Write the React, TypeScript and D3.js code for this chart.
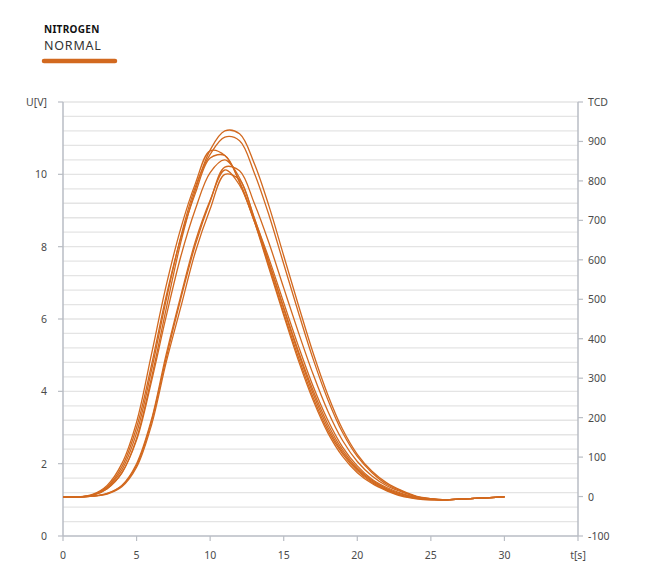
import { useMemo } from 'react';
import * as d3 from 'd3';

const WIDTH = 656;
const HEIGHT = 582;
const MARGIN = { top: 102, right: 78, bottom: 46, left: 63 };
const ORANGE = '#d2691f';
const AXIS_GREY = '#b9bdc4';
const GRID_GREY = '#e4e4e4';
const TEXT = '#4a4a4a';
const FONT = '"Noto Sans", sans-serif';

// time axis (s), one sample per second
const TIME = [0, 1, 2, 3, 4, 5, 6, 7, 8, 9, 10, 11, 12, 13, 14, 15, 16, 17, 18, 19, 20, 21, 22, 23, 24, 25, 26, 27, 28, 29, 30];

// measured voltage of each run (V)
const RUN_1 = [1.08, 1.08, 1.12, 1.31, 1.74, 2.7, 4.35, 6.26, 8.11, 9.58, 10.67, 11.2, 11.12, 10.3, 9.12, 7.75, 6.38, 5.06, 3.9, 2.95, 2.26, 1.79, 1.47, 1.26, 1.1, 1.03, 1.0, 1.02, 1.04, 1.06, 1.08];
const RUN_2 = [1.08, 1.08, 1.13, 1.35, 1.83, 2.85, 4.55, 6.5, 8.27, 9.66, 10.55, 11.03, 10.93, 10.04, 8.87, 7.52, 6.18, 4.89, 3.77, 2.86, 2.2, 1.75, 1.43, 1.24, 1.09, 1.03, 1.0, 1.02, 1.04, 1.06, 1.08];
const RUN_3 = [1.08, 1.08, 1.15, 1.4, 2.0, 3.15, 5.0, 6.9, 8.5, 9.75, 10.65, 10.52, 9.8, 8.7, 7.4, 6.1, 4.85, 3.75, 2.85, 2.2, 1.75, 1.45, 1.25, 1.1, 1.03, 1.0, 1.0, 1.02, 1.04, 1.06, 1.08];
const RUN_4 = [1.08, 1.08, 1.13, 1.36, 1.91, 3.0, 4.7, 6.61, 8.23, 9.48, 10.45, 10.52, 9.77, 8.72, 7.46, 6.17, 4.94, 3.83, 2.92, 2.27, 1.8, 1.48, 1.27, 1.12, 1.04, 1.0, 1.0, 1.02, 1.04, 1.06, 1.08];
const RUN_5 = [1.08, 1.08, 1.12, 1.31, 1.75, 2.65, 4.25, 6.05, 7.72, 9.04, 10.05, 10.4, 9.9, 8.8, 7.57, 6.28, 5.05, 3.93, 3.0, 2.32, 1.84, 1.51, 1.29, 1.13, 1.05, 1.01, 1.0, 1.02, 1.04, 1.06, 1.08];
const RUN_6 = [1.08, 1.08, 1.1, 1.17, 1.39, 1.95, 3.15, 4.9, 6.55, 8.06, 9.25, 10.2, 10.1, 9.2, 8.1, 6.86, 5.63, 4.47, 3.45, 2.64, 2.06, 1.66, 1.39, 1.22, 1.09, 1.02, 1.0, 1.02, 1.04, 1.06, 1.08];
const RUN_7 = [1.08, 1.08, 1.1, 1.18, 1.4, 2.0, 3.2, 5.0, 6.63, 8.15, 9.28, 10.12, 9.7, 8.7, 7.55, 6.32, 5.11, 4.02, 3.09, 2.38, 1.88, 1.54, 1.31, 1.16, 1.06, 1.01, 1.0, 1.02, 1.04, 1.06, 1.08];
const RUN_8 = [1.08, 1.08, 1.1, 1.16, 1.36, 1.9, 3.05, 4.78, 6.32, 7.86, 9.04, 10.0, 9.85, 8.78, 7.67, 6.45, 5.25, 4.14, 3.2, 2.46, 1.94, 1.57, 1.34, 1.18, 1.07, 1.02, 1.0, 1.02, 1.04, 1.06, 1.08];

const RUNS = [RUN_1, RUN_2, RUN_3, RUN_4, RUN_5, RUN_6, RUN_7, RUN_8];

// tick labels
const X_TICKS = [0, 5, 10, 15, 20, 25, 30];
const LEFT_TICKS = [0, 2, 4, 6, 8, 10];
const RIGHT_TICKS = [-100, 0, 100, 200, 300, 400, 500, 600, 700, 800, 900];

export default function App() {
    const boundsRight = WIDTH - MARGIN.right;
    const boundsBottom = HEIGHT - MARGIN.bottom;

    const xScale = useMemo(() => d3.scaleLinear().domain([0, 35]).range([MARGIN.left, boundsRight]), [boundsRight]);
    const yLeft = useMemo(() => d3.scaleLinear().domain([0, 12]).range([boundsBottom, MARGIN.top]), [boundsBottom]);
    const yRight = useMemo(() => d3.scaleLinear().domain([-100, 1000]).range([boundsBottom, MARGIN.top]), [boundsBottom]);

    const lineBuilder = d3
        .line<number>()
        .x((_, i) => xScale(TIME[i]))
        .y((d) => yLeft(d))
        .curve(d3.curveCatmullRom.alpha(0.5));

    // light grid every 0.4 V
    const grid = d3.range(1, 31).map((k) => yLeft(k * 0.4));

    return (
        <svg
            width={WIDTH}
            height={HEIGHT}
            style={{ position: 'absolute', left: 0, top: 0, background: '#fff' }}
            fontFamily={FONT}
        >
            {/* legend */}
            <text x={44} y={33} fontSize={10} fontWeight={700} fill="#111" letterSpacing={0.3}>
                NITROGEN
            </text>
            <text x={44} y={50} fontSize={12.5} fill="#333" letterSpacing={0.8}>
                NORMAL
            </text>
            <line x1={44} x2={115} y1={61} y2={61} stroke={ORANGE} strokeWidth={4.5} strokeLinecap="round" />

            {/* grid */}
            {grid.map((y, i) => (
                <line key={i} x1={MARGIN.left} x2={boundsRight} y1={y} y2={y} stroke={GRID_GREY} strokeWidth={1.3} />
            ))}

            {/* axes */}
            <line x1={MARGIN.left} x2={MARGIN.left} y1={MARGIN.top} y2={boundsBottom} stroke={AXIS_GREY} strokeWidth={1.5} />
            <line x1={boundsRight} x2={boundsRight} y1={MARGIN.top} y2={boundsBottom} stroke={AXIS_GREY} strokeWidth={1.5} />
            <line x1={MARGIN.left} x2={boundsRight} y1={boundsBottom} y2={boundsBottom} stroke={AXIS_GREY} strokeWidth={1.5} />

            {/* left axis */}
            {LEFT_TICKS.map((v) => (
                <g key={v}>
                    <line x1={MARGIN.left - 5} x2={MARGIN.left} y1={yLeft(v)} y2={yLeft(v)} stroke={AXIS_GREY} strokeWidth={1.2} />
                    <text x={MARGIN.left - 16} y={yLeft(v)} textAnchor="end" dominantBaseline="central" fontSize={10.5} fill={TEXT}>
                        {v}
                    </text>
                </g>
            ))}
            <line x1={MARGIN.left - 5} x2={MARGIN.left} y1={yLeft(12)} y2={yLeft(12)} stroke={AXIS_GREY} strokeWidth={1.2} />
            <text x={MARGIN.left - 16} y={yLeft(12)} textAnchor="end" dominantBaseline="central" fontSize={10.5} fill={TEXT}>
                U[V]
            </text>

            {/* right axis */}
            {RIGHT_TICKS.map((v) => (
                <g key={v}>
                    <line x1={boundsRight} x2={boundsRight + 5} y1={yRight(v)} y2={yRight(v)} stroke={AXIS_GREY} strokeWidth={1.2} />
                    <text x={boundsRight + 10} y={yRight(v)} dominantBaseline="central" fontSize={10.5} fill={TEXT}>
                        {v}
                    </text>
                </g>
            ))}
            <line x1={boundsRight} x2={boundsRight + 5} y1={yRight(1000)} y2={yRight(1000)} stroke={AXIS_GREY} strokeWidth={1.2} />
            <text x={boundsRight + 10} y={yRight(1000)} dominantBaseline="central" fontSize={10.5} fill={TEXT}>
                TCD
            </text>

            {/* bottom axis */}
            {X_TICKS.map((v) => (
                <g key={v}>
                    <line x1={xScale(v)} x2={xScale(v)} y1={boundsBottom} y2={boundsBottom + 5} stroke={AXIS_GREY} strokeWidth={1.2} />
                    <text x={xScale(v)} y={boundsBottom + 23} textAnchor="middle" fontSize={10.5} fill={TEXT}>
                        {v}
                    </text>
                </g>
            ))}
            <line x1={xScale(35)} x2={xScale(35)} y1={boundsBottom} y2={boundsBottom + 5} stroke={AXIS_GREY} strokeWidth={1.2} />
            <text x={xScale(35)} y={boundsBottom + 23} textAnchor="middle" fontSize={10.5} fill={TEXT}>
                t[s]
            </text>

            {/* runs */}
            {RUNS.map((run, i) => (
                <path key={i} d={lineBuilder(run) || ''} fill="none" stroke={ORANGE} strokeWidth={1.3} />
            ))}
        </svg>
    );
}
